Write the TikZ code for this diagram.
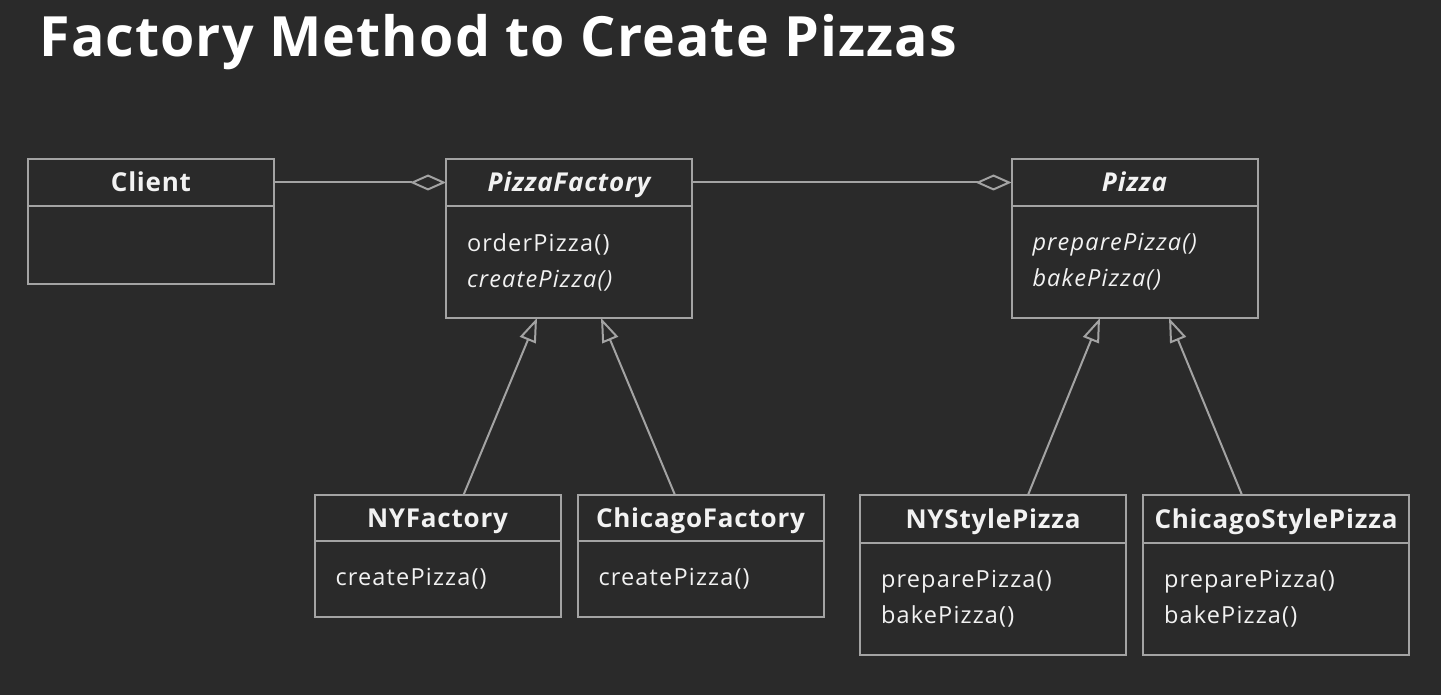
\documentclass[tikz,border=0pt]{standalone}
\usepackage{fontspec}
\setmainfont{Open Sans}
\usetikzlibrary{positioning}
\usetikzlibrary{arrows.meta}
\definecolor{cbg}{HTML}{2A2A2A}
\definecolor{cline}{HTML}{A3A3A3}
\definecolor{ctext}{HTML}{F2F2F2}

\begin{document}
\begin{tikzpicture}[x=1pt, y=-1pt]
    \tikzset{
        classname/.style={rectangle, draw=cline, line width=2pt, text=ctext, font=\fontsize{26}{30}\selectfont\bfseries\addfontfeature{LetterSpace=3}, minimum width=246pt, inner sep=0pt, outer sep=0pt, text height=18.5pt, text depth=0pt},
        methods/.style={rectangle, draw=cline, line width=2pt, text=ctext, font=\fontsize{23.5}{36}\selectfont\addfontfeature{LetterSpace=5}, align=left, minimum width=246pt, text width=204pt, inner xsep=21pt, inner ysep=0pt, outer sep=0pt},
        aggr/.style={draw=cline, line width=2pt, -{Diamond[open, length=36pt, width=16pt]}},
        inherit/.style={draw=cline, line width=2pt, -{Triangle[open, length=24pt, width=17pt]}}
    }

    \useasboundingbox[fill=cbg] (0,0) rectangle (1441,695);

    \node[anchor=base west, text=white, font=\fontsize{55.5}{60}\selectfont\bfseries\addfontfeature{LetterSpace=2}] (title) at (36,57) {Factory Method to Create Pizzas};

    \node[classname, minimum height=47pt] (client) at (151,182.5) {Client};
    \node[methods, minimum height=78pt, below=0pt of client] (client_ops) {};

    \node[classname, minimum height=47pt] (pizzafactory) at (569,182.5) {\itshape PizzaFactory};
    \node[methods, minimum height=112pt, below=0pt of pizzafactory] (pizzafactory_ops) {orderPizza()\\\itshape createPizza()};

    \node[classname, minimum height=47pt] (pizza) at (1134.5,182.5) {\itshape Pizza};
    \node[methods, minimum height=112pt, below=0pt of pizza] (pizza_ops) {\itshape preparePizza()\\\itshape bakePizza()};

    \node[classname, minimum height=46pt] (nyfactory) at (437.5,518) {NYFactory};
    \node[methods, minimum height=76pt, below=0pt of nyfactory] (nyfactory_ops) {createPizza()};

    \node[classname, minimum height=46pt] (chicagofactory) at (700.5,518) {ChicagoFactory};
    \node[methods, minimum height=76pt, below=0pt of chicagofactory] (chicagofactory_ops) {createPizza()};

    \node[classname, minimum height=48pt, minimum width=266pt] (nystyle) at (993,519) {NYStylePizza};
    \node[methods, minimum height=112pt, minimum width=266pt, text width=224pt, below=0pt of nystyle] (nystyle_ops) {preparePizza()\\bakePizza()};

    \node[classname, minimum height=48pt, minimum width=266pt] (chicagostyle) at (1276,519) {ChicagoStylePizza};
    \node[methods, minimum height=112pt, minimum width=266pt, text width=224pt, below=0pt of chicagostyle] (chicagostyle_ops) {preparePizza()\\bakePizza()};

    \path[aggr] (client) -- (pizzafactory);
    \path[aggr] (pizzafactory) -- (pizza);
    \path[inherit] ([xshift=26pt]nyfactory.north) -- ([xshift=-32pt]pizzafactory_ops.south);
    \path[inherit] ([xshift=-25.5pt]chicagofactory.north) -- ([xshift=32pt]pizzafactory_ops.south);
    \path[inherit] ([xshift=35pt]nystyle.north) -- ([xshift=-34.5pt]pizza_ops.south);
    \path[inherit] ([xshift=-34pt]chicagostyle.north) -- ([xshift=34.5pt]pizza_ops.south);
\end{tikzpicture}
\end{document}
